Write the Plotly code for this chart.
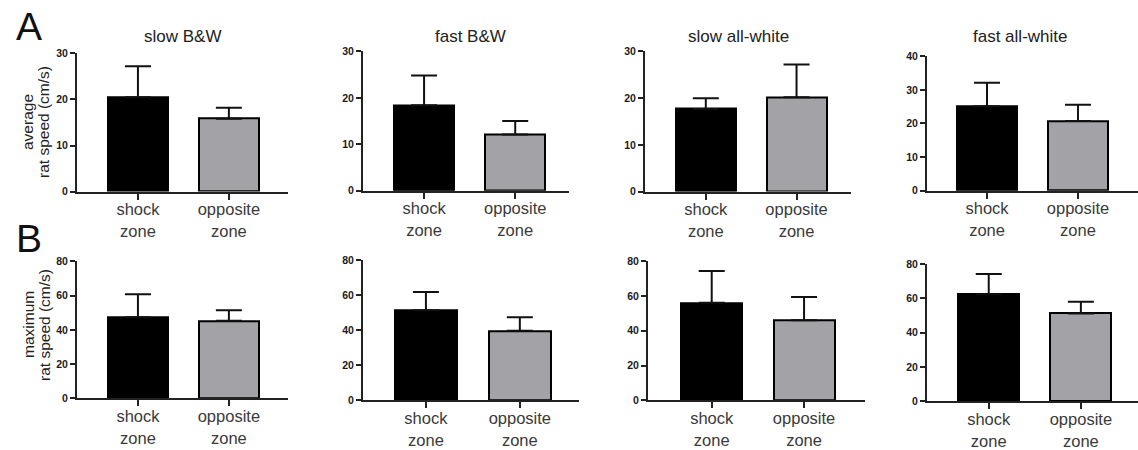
import plotly.graph_objects as go

W, H = 1138, 450

categories = ["shock<br>zone", "opposite<br>zone"]
panel_titles = ["slow B&W", "fast B&W", "slow all-white", "fast all-white"]

# Row A: average rat speed (cm/s)
avg_shock = [20.5, 18.4, 17.7, 25.1]
avg_shock_err = [6.7, 6.4, 2.3, 7.0]
avg_opposite = [15.8, 12.1, 20.2, 20.7]
avg_opposite_err = [2.4, 2.9, 7.0, 4.9]
avg_ymax = [30, 30, 30, 40]

# Row B: maximum rat speed (cm/s)
max_shock = [47.3, 51.5, 56.1, 62.4]
max_shock_err = [13.5, 10.3, 18.3, 11.8]
max_opposite = [45.3, 39.7, 46.0, 51.2]
max_opposite_err = [6.1, 7.7, 13.4, 6.9]
max_ymax = [80, 80, 80, 80]

bar_colors = ["#000000", "#a3a2a7"]
FONT = "Liberation Sans, Arial, sans-serif"

# panel geometry in pixels
xdom_A = [(77, 288), (363, 569), (645, 851), (927, 1138)]
ydom_A = [(49, 192), (47, 191), (47, 192), (52, 191)]
xdom_B = [(77, 288), (363, 579), (648, 865), (927, 1138)]
ydom_B = [(264, 406), (263, 408), (264, 408), (267, 409)]
xranges_A = [(-0.67, 1.65), (-0.67, 1.59), (-0.67, 1.60), (-0.66, 1.66)]
xranges_B = [(-0.67, 1.65), (-0.67, 1.63), (-0.69, 1.66), (-0.67, 1.62)]
title_x = [182, 470, 738, 1020]

fig = go.Figure()
layout = {}

def add_panel(k, vals, errs, ymax, dtick, xd, yd, xr):
    xa = "x" if k == 1 else f"x{k}"
    ya = "y" if k == 1 else f"y{k}"
    fig.add_trace(go.Bar(
        x=categories, y=vals, xaxis=xa, yaxis=ya,
        width=0.66,
        marker=dict(color=bar_colors, line=dict(color="#000000", width=2)),
        error_y=dict(type="data", array=errs, arrayminus=[0, 0], symmetric=False,
                     color="#111111", thickness=2, width=13),
        showlegend=False, hoverinfo="skip",
    ))
    xkey = "xaxis" if k == 1 else f"xaxis{k}"
    ykey = "yaxis" if k == 1 else f"yaxis{k}"
    layout[xkey] = dict(
        domain=[xd[0] / W, xd[1] / W], anchor=ya, range=list(xr),
        showline=True, linecolor="#222222", linewidth=2, showgrid=False, zeroline=False,
        ticks="outside", ticklen=6, tickwidth=2, tickcolor="#222222",
        ticklabelstandoff=-4,
        tickfont=dict(family=FONT, size=16.5, color="#3a3a3a"), fixedrange=True,
    )
    layout[ykey] = dict(
        domain=[1 - yd[1] / H, 1 - yd[0] / H], anchor=xa, range=[0, ymax], dtick=dtick,
        showline=True, linecolor="#222222", linewidth=2, showgrid=False, zeroline=False,
        ticks="outside", ticklen=5, tickwidth=2, tickcolor="#222222",
        tickfont=dict(family=FONT, size=10.5, color="#1a1a1a", weight=700),
        fixedrange=True,
    )

for i in range(4):
    add_panel(i + 1, [avg_shock[i], avg_opposite[i]], [avg_shock_err[i], avg_opposite_err[i]],
              avg_ymax[i], 10, xdom_A[i], ydom_A[i], xranges_A[i])
for i in range(4):
    add_panel(i + 5, [max_shock[i], max_opposite[i]], [max_shock_err[i], max_opposite_err[i]],
              max_ymax[i], 20, xdom_B[i], ydom_B[i], xranges_B[i])

annotations = []
for i, t in enumerate(panel_titles):
    annotations.append(dict(text=t, x=title_x[i] / W, y=1 - 32 / H, xref="paper", yref="paper",
                            showarrow=False, xanchor="center", yanchor="middle",
                            font=dict(family=FONT, size=17, color="#222222")))

# panel letters
annotations.append(dict(text="A", x=29 / W, y=1 - 21 / H, xref="paper", yref="paper",
                        showarrow=False, xanchor="center", yanchor="middle",
                        font=dict(family=FONT, size=39, color="#111111")))
annotations.append(dict(text="B", x=29 / W, y=1 - 240 / H, xref="paper", yref="paper",
                        showarrow=False, xanchor="center", yanchor="middle",
                        font=dict(family=FONT, size=39, color="#111111")))

# y-axis titles (two lines each)
for lines, yc in ((["average", "rat speed (cm/s)"], 120), (["maximum", "rat speed (cm/s)"], 330)):
    for j, line in enumerate(lines):
        annotations.append(dict(text=line, x=(28 + 16 * j) / W, y=1 - yc / H,
                                xref="paper", yref="paper", showarrow=False, textangle=-90,
                                xanchor="center", yanchor="middle",
                                font=dict(family=FONT, size=15.5, color="#222222")))

fig.update_layout(
    width=W, height=H, margin=dict(l=0, r=0, t=0, b=0),
    paper_bgcolor="white", plot_bgcolor="white",
    annotations=annotations, bargap=0, **layout,
)

fig.write_html("out.html", config={"displayModeBar": False})
